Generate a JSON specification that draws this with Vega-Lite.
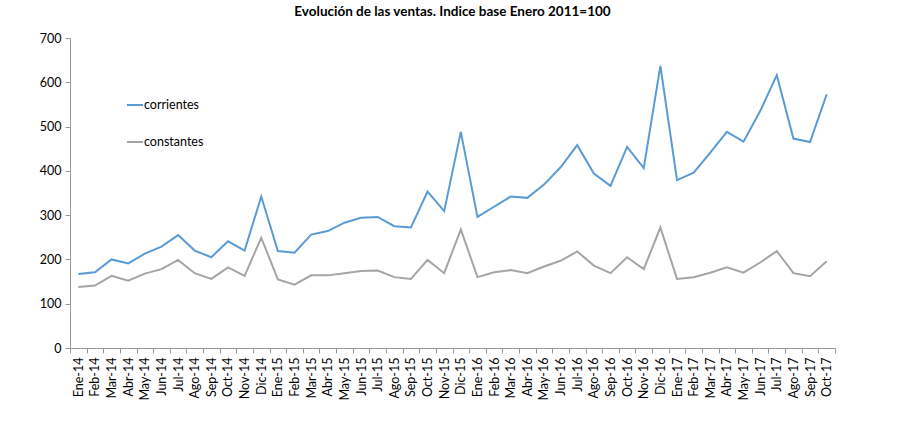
{
  "$schema": "https://vega.github.io/schema/vega-lite/v6.json",
  "width": 765,
  "height": 310,
  "autosize": {"type": "none"},
  "padding": {"left": 70, "top": 38, "right": 65, "bottom": 92},
  "background": "white",
  "title": {"text": "Evolución de las ventas. Indice base Enero 2011=100", "font": "Lato", "fontSize": 13.5, "fontWeight": "bold", "color": "#000000", "offset": 14},
  "config": {"view": {"stroke": null}, "font": "Lato"},
  "data": {"values": [
    {"mes":"Ene-14","corrientes":167,"constantes":138},
    {"mes":"Feb-14","corrientes":171,"constantes":141},
    {"mes":"Mar-14","corrientes":200,"constantes":163},
    {"mes":"Abr-14","corrientes":191,"constantes":152},
    {"mes":"May-14","corrientes":213,"constantes":168},
    {"mes":"Jun-14","corrientes":229,"constantes":178},
    {"mes":"Jul-14","corrientes":255,"constantes":199},
    {"mes":"Ago-14","corrientes":220,"constantes":169},
    {"mes":"Sep-14","corrientes":205,"constantes":156},
    {"mes":"Oct-14","corrientes":241,"constantes":182},
    {"mes":"Nov-14","corrientes":220,"constantes":163},
    {"mes":"Dic-14","corrientes":342,"constantes":249},
    {"mes":"Ene-15","corrientes":219,"constantes":155},
    {"mes":"Feb-15","corrientes":215,"constantes":143},
    {"mes":"Mar-15","corrientes":256,"constantes":164},
    {"mes":"Abr-15","corrientes":264,"constantes":164},
    {"mes":"May-15","corrientes":283,"constantes":169},
    {"mes":"Jun-15","corrientes":294,"constantes":174},
    {"mes":"Jul-15","corrientes":296,"constantes":175},
    {"mes":"Ago-15","corrientes":275,"constantes":160},
    {"mes":"Sep-15","corrientes":272,"constantes":156},
    {"mes":"Oct-15","corrientes":353,"constantes":199},
    {"mes":"Nov-15","corrientes":309,"constantes":169},
    {"mes":"Dic-15","corrientes":488,"constantes":268},
    {"mes":"Ene-16","corrientes":296,"constantes":160},
    {"mes":"Feb-16","corrientes":319,"constantes":171},
    {"mes":"Mar-16","corrientes":342,"constantes":176},
    {"mes":"Abr-16","corrientes":339,"constantes":169},
    {"mes":"May-16","corrientes":369,"constantes":184},
    {"mes":"Jun-16","corrientes":408,"constantes":197},
    {"mes":"Jul-16","corrientes":458,"constantes":218},
    {"mes":"Ago-16","corrientes":394,"constantes":186},
    {"mes":"Sep-16","corrientes":366,"constantes":169},
    {"mes":"Oct-16","corrientes":454,"constantes":205},
    {"mes":"Nov-16","corrientes":406,"constantes":178},
    {"mes":"Dic-16","corrientes":637,"constantes":272},
    {"mes":"Ene-17","corrientes":379,"constantes":156},
    {"mes":"Feb-17","corrientes":396,"constantes":160},
    {"mes":"Mar-17","corrientes":441,"constantes":170},
    {"mes":"Abr-17","corrientes":488,"constantes":182},
    {"mes":"May-17","corrientes":466,"constantes":170},
    {"mes":"Jun-17","corrientes":535,"constantes":193},
    {"mes":"Jul-17","corrientes":616,"constantes":219},
    {"mes":"Ago-17","corrientes":473,"constantes":169},
    {"mes":"Sep-17","corrientes":465,"constantes":162},
    {"mes":"Oct-17","corrientes":573,"constantes":196}
  ]},
  "transform": [{"fold": ["corrientes", "constantes"], "as": ["serie", "valor"]}],
  "mark": {"type": "line", "strokeWidth": 2},
  "encoding": {
    "x": {"field": "mes", "type": "ordinal", "sort": null,
      "scale": {"type": "band", "paddingInner": 0, "paddingOuter": 0},
      "axis": {"title": null, "labelAngle": -90, "labelFontSize": 12.5, "labelColor": "#000000", "labelPadding": 4,
        "tickBand": "extent", "tickSize": 5, "tickColor": "#999999", "domainColor": "#999999", "grid": false}},
    "y": {"field": "valor", "type": "quantitative",
      "scale": {"domain": [0, 700]},
      "axis": {"title": null, "values": [0,100,200,300,400,500,600,700], "labelFontSize": 12.5, "labelColor": "#000000",
        "tickSize": 5, "tickColor": "#999999", "domainColor": "#999999", "grid": false, "labelPadding": 4}},
    "color": {"field": "serie", "type": "nominal",
      "scale": {"domain": ["corrientes", "constantes"], "range": ["#5b9bd5", "#a5a5a5"]},
      "legend": {"title": null, "orient": "none", "legendX": 56, "legendY": 58, "symbolType": "stroke", "symbolSize": 256,
        "symbolStrokeWidth": 2, "labelFontSize": 12.5, "labelColor": "#000000", "rowPadding": 21, "labelOffset": 0}}
  }
}
